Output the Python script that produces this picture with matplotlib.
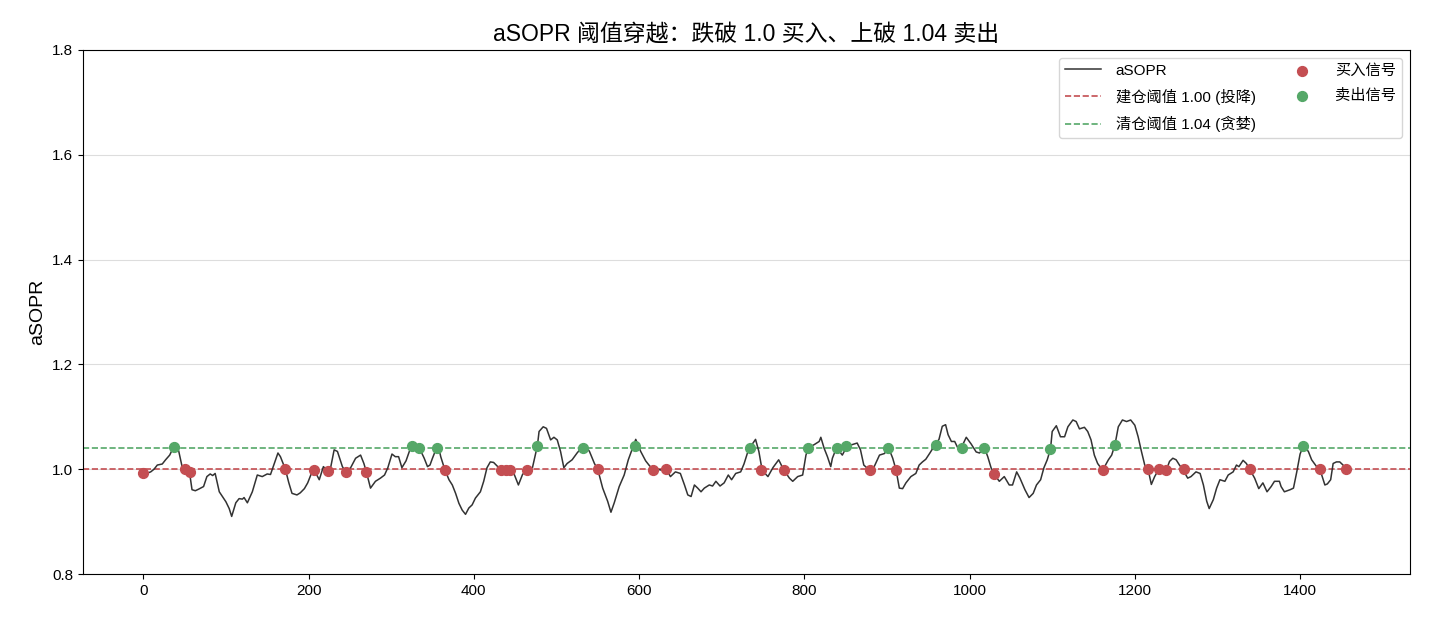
import numpy as np
import matplotlib
matplotlib.use("Agg")
import matplotlib.pyplot as plt

plt.rcParams['font.family'] = ['Liberation Sans', 'Noto Sans CJK SC', 'DejaVu Sans']
plt.rcParams['axes.unicode_minus'] = False

# aSOPR keypoints (day index, value)
days = [0, 4, 9, 13, 17, 23, 27, 32, 36, 39, 43, 47, 50, 53, 56, 59, 63, 67, 73, 77,
        81, 84, 87, 92, 100, 104, 107, 112, 116, 120, 122, 126, 132, 138, 144, 150, 154, 158, 163, 166,
        172, 176, 180, 186, 190, 195, 199, 203, 207, 213, 218, 223, 227, 231, 235, 241, 245, 251, 257, 263,
        267, 270, 275, 281, 287, 292, 296, 301, 305, 309, 313, 318, 322, 325, 329, 334, 340, 344, 347, 350,
        355, 357, 360, 365, 370, 374, 378, 382, 386, 390, 394, 398, 402, 408, 412, 416, 420, 424, 429, 433,
        438, 444, 449, 454, 459, 464, 471, 477, 479, 484, 488, 493, 497, 501, 505, 509, 513, 519, 525, 531,
        536, 540, 546, 550, 556, 562, 566, 570, 576, 582, 587, 592, 596, 602, 608, 612, 617, 622, 628, 633,
        638, 644, 650, 655, 659, 663, 667, 671, 675, 679, 685, 689, 693, 698, 703, 708, 712, 717, 723, 727,
        731, 734, 741, 745, 749, 756, 762, 769, 775, 782, 786, 792, 798, 802, 805, 812, 818, 820, 824, 828,
        832, 834, 839, 846, 852, 858, 864, 868, 872, 879, 884, 891, 897, 902, 907, 911, 915, 919, 923, 929,
        935, 939, 943, 947, 952, 958, 963, 967, 971, 974, 978, 982, 986, 990, 996, 1002, 1008, 1012, 1018, 1022,
        1026, 1030, 1036, 1042, 1048, 1052, 1057, 1061, 1067, 1072, 1077, 1081, 1086, 1090, 1094, 1098, 1100, 1105, 1110, 1115,
        1119, 1125, 1129, 1133, 1139, 1143, 1147, 1151, 1155, 1161, 1168, 1172, 1176, 1180, 1185, 1190, 1195, 1200, 1204, 1208,
        1212, 1216, 1220, 1224, 1229, 1234, 1238, 1242, 1246, 1250, 1254, 1258, 1264, 1268, 1274, 1279, 1283, 1287, 1290, 1295,
        1299, 1303, 1309, 1313, 1319, 1323, 1326, 1331, 1335, 1339, 1345, 1350, 1355, 1360, 1365, 1369, 1375, 1377, 1381, 1388,
        1392, 1396, 1400, 1404, 1410, 1414, 1420, 1424, 1430, 1433, 1437, 1440, 1444, 1448, 1452, 1455]
asopr = [0.994, 0.992, 0.995, 1.000, 1.008, 1.010, 1.018, 1.027, 1.040, 1.050, 1.034, 1.005, 1.000, 0.998, 0.994, 0.961, 0.959, 0.962, 0.967, 0.986,
         0.991, 0.988, 0.992, 0.957, 0.938, 0.925, 0.910, 0.936, 0.944, 0.943, 0.946, 0.936, 0.957, 0.989, 0.986, 0.991, 0.990, 1.008, 1.031, 1.024,
         1.000, 0.975, 0.954, 0.951, 0.955, 0.963, 0.974, 0.990, 0.998, 0.980, 1.005, 0.997, 1.005, 1.037, 1.034, 1.005, 0.995, 1.003, 1.021, 1.027,
         1.011, 0.995, 0.964, 0.977, 0.983, 0.989, 1.003, 1.029, 1.024, 1.024, 1.003, 1.016, 1.034, 1.045, 1.040, 1.041, 1.021, 1.005, 1.008, 1.021,
         1.041, 1.045, 1.024, 0.999, 0.980, 0.970, 0.954, 0.935, 0.922, 0.914, 0.926, 0.932, 0.945, 0.957, 0.977, 1.003, 1.014, 1.013, 1.005, 0.999,
         1.000, 0.999, 0.990, 0.970, 0.990, 0.999, 1.003, 1.045, 1.072, 1.081, 1.078, 1.056, 1.061, 1.056, 1.034, 1.003, 1.011, 1.018, 1.031, 1.042,
         1.043, 1.034, 1.011, 1.000, 0.964, 0.939, 0.918, 0.936, 0.967, 0.989, 1.018, 1.040, 1.057, 1.034, 1.016, 1.008, 0.999, 1.000, 0.998, 1.000,
         0.986, 0.995, 0.992, 0.970, 0.951, 0.948, 0.970, 0.964, 0.957, 0.964, 0.970, 0.968, 0.977, 0.968, 0.974, 0.989, 0.980, 0.992, 0.995, 1.010,
         1.030, 1.041, 1.057, 1.034, 0.998, 0.986, 1.003, 1.018, 0.999, 0.983, 0.977, 0.986, 0.989, 1.027, 1.041, 1.047, 1.053, 1.061, 1.040, 1.024,
         1.005, 1.021, 1.041, 1.027, 1.045, 1.047, 1.050, 1.037, 1.008, 0.998, 1.003, 1.027, 1.030, 1.041, 1.021, 0.999, 0.964, 0.963, 0.974, 0.986,
         0.992, 1.008, 1.014, 1.019, 1.031, 1.046, 1.057, 1.082, 1.085, 1.066, 1.053, 1.053, 1.040, 1.041, 1.061, 1.048, 1.033, 1.031, 1.041, 1.024,
         1.003, 0.990, 0.977, 0.986, 0.970, 0.970, 0.995, 0.983, 0.961, 0.946, 0.954, 0.970, 0.980, 1.003, 1.018, 1.039, 1.072, 1.083, 1.062, 1.062,
         1.081, 1.094, 1.091, 1.077, 1.080, 1.072, 1.056, 1.027, 1.011, 0.998, 1.018, 1.027, 1.047, 1.081, 1.094, 1.091, 1.094, 1.084, 1.062, 1.034,
         1.008, 1.000, 0.971, 0.986, 1.000, 0.992, 0.998, 1.015, 1.021, 1.018, 1.008, 1.000, 0.983, 0.986, 0.995, 0.992, 0.970, 0.939, 0.925, 0.942,
         0.964, 0.980, 0.977, 0.989, 0.995, 1.008, 1.005, 1.017, 1.011, 1.000, 0.983, 0.963, 0.974, 0.957, 0.967, 0.977, 0.977, 0.967, 0.957, 0.961,
         0.964, 0.995, 1.029, 1.045, 1.034, 1.018, 1.005, 1.000, 0.970, 0.972, 0.980, 1.011, 1.014, 1.014, 1.008, 1.000]

buy_days = [0, 50, 56, 172, 207, 223, 245, 270, 365, 433, 439, 444, 464, 550, 617, 633, 748, 775, 879, 911,
            1029, 1161, 1216, 1229, 1238, 1259, 1339, 1424, 1455]
buy_vals = [0.993, 1.000, 0.995, 1.000, 0.999, 0.997, 0.995, 0.995, 0.999, 0.999, 0.999, 0.999, 0.999, 1.000, 0.999, 1.000, 0.999, 0.999, 0.999, 0.999,
            0.990, 0.999, 1.000, 1.000, 0.998, 1.000, 1.000, 1.000, 1.000]
sell_days = [37, 325, 334, 355, 477, 532, 595, 734, 805, 839, 851, 901, 959, 991, 1018, 1097, 1176, 1404]
sell_vals = [1.043, 1.045, 1.041, 1.041, 1.045, 1.041, 1.045, 1.041, 1.041, 1.041, 1.045, 1.041, 1.046, 1.041, 1.041, 1.039, 1.047, 1.045]

buy_level = 1.00
sell_level = 1.04

fig = plt.figure(figsize=(14.3, 6.24), dpi=100)
ax = fig.add_axes([0.058, 0.080, 0.928, 0.840])

ax.plot(days, asopr, color='#333333', lw=1.1, label='aSOPR', zorder=3)
ax.axhline(buy_level, color='#c44e52', ls='--', lw=1.2, label='建仓阈值 1.00 (投降)', zorder=2)
ax.axhline(sell_level, color='#55a868', ls='--', lw=1.2, label='清仓阈值 1.04 (贪婪)', zorder=2)
ax.scatter(buy_days, buy_vals, color='#c44e52', s=50, label='买入信号', zorder=4)
ax.scatter(sell_days, sell_vals, color='#55a868', s=50, label='卖出信号', zorder=4)

ax.set_xlim(-73, 1533)
ax.set_ylim(0.8, 1.8)
ax.set_yticks(np.arange(0.8, 1.81, 0.2))
ax.yaxis.grid(True, color='#dddddd', lw=0.8)
ax.set_axisbelow(True)
ax.tick_params(labelsize=11)
ax.set_ylabel('aSOPR', fontsize=14)
ax.set_title('aSOPR 阈值穿越：跌破 1.0 买入、上破 1.04 卖出', fontsize=16.5)
ax.legend(loc='upper right', ncol=2, fontsize=11, columnspacing=1.9,
          labelspacing=0.72, handletextpad=1.0, handlelength=2.3)

plt.savefig('out.png', dpi=100)
